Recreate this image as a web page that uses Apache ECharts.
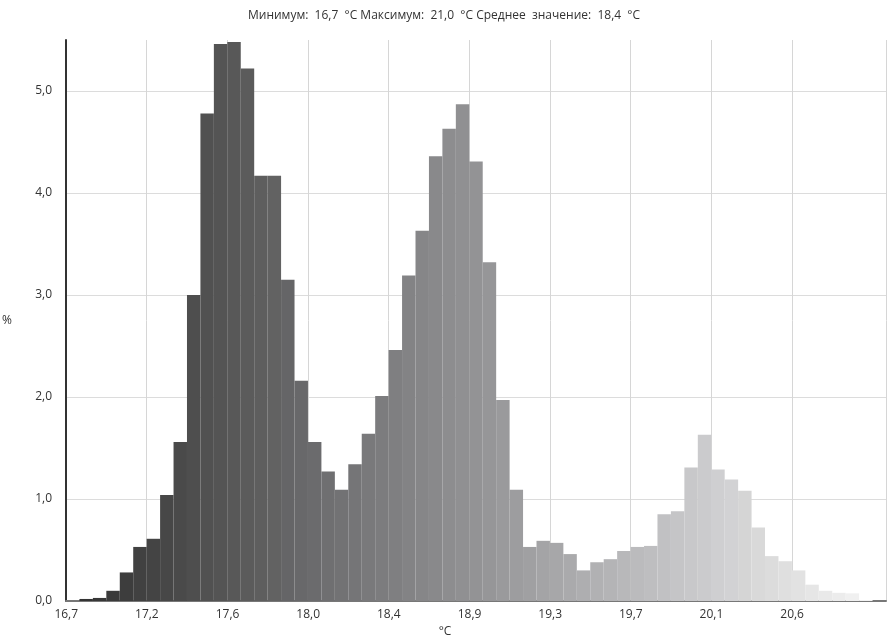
<!DOCTYPE html>
<html>
<head>
<meta charset="utf-8">
<script src="https://cdn.jsdelivr.net/npm/echarts@6/dist/echarts.min.js"></script>
<style>
  html, body { margin: 0; padding: 0; background: #fff; }
  #histogram { width: 888px; height: 635px; }
</style>
</head>
<body>
<div id="histogram"></div>
<script>
// histogram bins (60 bins from 16,7 to 21,0 °C), share in %
const binValues = [
  0, 0.02, 0.03, 0.1, 0.28, 0.53, 0.61, 1.04, 1.56, 3.0,
  4.78, 5.46, 5.48, 5.22, 4.17, 4.17, 3.15, 2.16, 1.56, 1.27,
  1.09, 1.34, 1.64, 2.01, 2.46, 3.19, 3.63, 4.36, 4.63, 4.87,
  4.31, 3.32, 1.97, 1.09, 0.53, 0.59, 0.57, 0.46, 0.30, 0.38,
  0.41, 0.49, 0.53, 0.54, 0.85, 0.88, 1.31, 1.63, 1.29, 1.19,
  1.08, 0.72, 0.44, 0.39, 0.30, 0.16, 0.10, 0.08, 0.075, 0.01
];
// labels every 6 bins
const tickLabels = ['16,7', '17,2', '17,6', '18,0', '18,4', '18,9', '19,3', '19,7', '20,1', '20,6'];
const titleText = 'Минимум:  16,7  °C Максимум:  21,0  °C Среднее  значение:  18,4  °C';

// one empty slot at the end, like the original
const categories = binValues.map((v, i) => 'b' + i).concat(['pad']);

function binColor(i) {
  // dark → light gradient along the temperature axis
  let l = Math.round(48 + (243 - 48) * i / (binValues.length - 1));
  let b = Math.min(255, l + (i > 15 && i < 50 ? 2 : 0));
  return 'rgb(' + l + ',' + l + ',' + b + ')';
}

let chart = echarts.init(document.getElementById('histogram'));

let option = {
  animation: false,
  textStyle: { fontFamily: 'Open Sans, Noto Sans, sans-serif' },
  title: {
    text: titleText,
    left: 'center',
    top: 5,
    textStyle: { fontSize: 12, fontWeight: 'normal', color: '#333' },
  },
  grid: {
    left: 66,
    right: 2,
    top: 40,
    bottom: 34,
    outerBoundsMode: 'none',
  },
  xAxis: {
    type: 'category',
    data: categories,
    boundaryGap: true,
    name: '°C',
    nameLocation: 'middle',
    nameGap: 20,
    nameTextStyle: { color: '#333', fontSize: 12, padding: [0, 62, 0, 0] },
    axisLine: { lineStyle: { color: '#777', width: 2 } },
    axisTick: { show: false },
    axisLabel: {
      interval: (index) => index % 6 === 0 && index < 60,
      formatter: (value, index) => tickLabels[index / 6] || '',
      color: '#333',
      fontSize: 12,
      margin: 8,
      padding: [0, 13, 0, 0],
    },
    splitLine: {
      show: true,
      interval: (index) => index % 6 === 0 && index > 0 && index < 60,
      lineStyle: { color: '#d6d6d6', width: 1 },
    },
  },
  yAxis: {
    type: 'value',
    min: 0,
    max: 5.5,
    interval: 1,
    name: '%',
    nameLocation: 'middle',
    nameRotate: 0,
    nameGap: 54,
    nameTextStyle: { color: '#333', fontSize: 12 },
    axisLine: { show: true, lineStyle: { color: '#333', width: 2 } },
    axisTick: { show: false },
    axisLabel: {
      color: '#333',
      fontSize: 12,
      margin: 14,
      showMaxLabel: false,
      formatter: (v) => (v > 5 ? '' : v.toFixed(1).replace('.', ',')),
    },
    splitLine: { showMaxLine: false, lineStyle: { color: '#dcdcdc', width: 1 } },
  },
  series: [
    {
      type: 'bar',
      barCategoryGap: 0,
      data: binValues.map((v, i) => ({
        value: v,
        itemStyle: { color: binColor(i) },
      })),
    },
  ],
};

chart.setOption(option);
</script>
</body>
</html>
